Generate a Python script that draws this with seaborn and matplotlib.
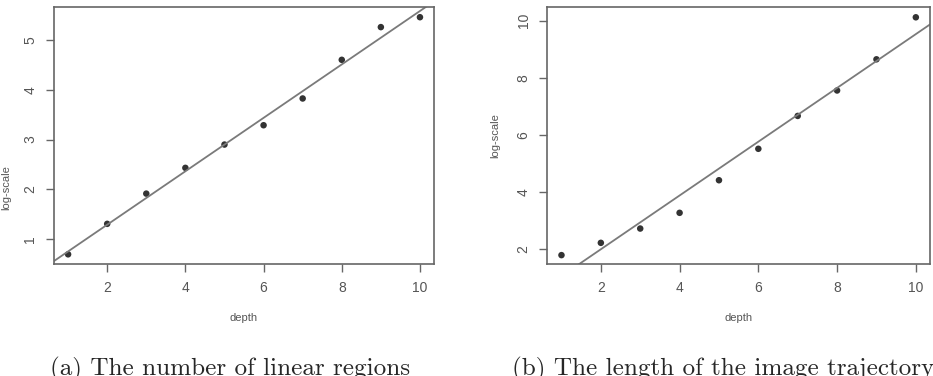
import numpy as np
import pandas as pd
import matplotlib
matplotlib.use("Agg")
import matplotlib.pyplot as plt
import seaborn as sns

sns.set_theme(style="white")
plt.rcParams['font.family'] = ['Liberation Sans', 'DejaVu Sans']

depth = [1, 2, 3, 4, 5, 6, 7, 8, 9, 10]
regions_log = [0.685, 1.30, 1.91, 2.43, 2.90, 3.29, 3.83, 4.61, 5.27, 5.47]
length_log = [1.80, 2.23, 2.73, 3.28, 4.42, 5.52, 6.67, 7.56, 8.65, 10.12]
x_ticks = [2, 4, 6, 8, 10]
yticks_a = [1, 2, 3, 4, 5]
yticks_b = [2, 4, 6, 8, 10]
captions = ["(a) The number of linear regions", "(b) The length of the image trajectory"]

df = pd.DataFrame({"depth": depth, "regions": regions_log, "length": length_log})

W, H = 933, 376
fig = plt.figure(figsize=(W / 100, H / 100), dpi=100)
ax1 = fig.add_axes([0.0579, 0.2979, 0.4073, 0.6827])
ax2 = fig.add_axes([0.5866, 0.2979, 0.4102, 0.6827])

panels = [(ax1, "regions", yticks_a, (0.49, 5.67)), (ax2, "length", yticks_b, (1.49, 10.47))]
for i, (ax, col, yt, ylim) in enumerate(panels):
    ax.set_xlim(0.64, 10.36)
    ax.set_ylim(*ylim)
    sns.regplot(data=df, x="depth", y=col, ax=ax, ci=None, truncate=False,
                scatter_kws=dict(s=22, color="black", edgecolor="none"),
                line_kws=dict(color="#7a7a7a", lw=1.3))
    ax.set_xlim(0.64, 10.36)
    ax.set_ylim(*ylim)
    ax.set_xticks(x_ticks)
    ax.set_yticks(yt)
    ax.tick_params(axis="both", direction="out", length=6, width=1.0, color="#666666",
                   labelsize=10, labelcolor="#555555", pad=6, bottom=True, left=True)
    for lab in ax.get_yticklabels():
        lab.set_rotation(90)
        lab.set_va("center")
    for sp in ax.spines.values():
        sp.set_color("#666666")
        sp.set_linewidth(1.2)
    ax.set_xlabel("depth", fontsize=8, color="#555555", labelpad=13)
    ax.set_ylabel("log-scale", fontsize=8, color="#555555", labelpad=12)

ax1.yaxis.set_label_coords(11 / W, 0.5, transform=fig.transFigure)

# captions: size chosen so caption (a) spans ~360 px like the reference
cap_font = ['cmr10', 'DejaVu Serif']
base_y = 1 - 375 / H
ta = fig.text(50 / W, base_y, captions[0], fontsize=18, family=cap_font, ha="left", va="baseline")
tb = fig.text(512 / W, base_y, captions[1], fontsize=18, family=cap_font, ha="left", va="baseline")
fig.canvas.draw()
r = fig.canvas.get_renderer()
wa = ta.get_window_extent(r).width
fs = 18 * 360 / wa
ta.set_fontsize(fs)
tb.set_fontsize(fs)

fig.savefig("out.png", dpi=100)
